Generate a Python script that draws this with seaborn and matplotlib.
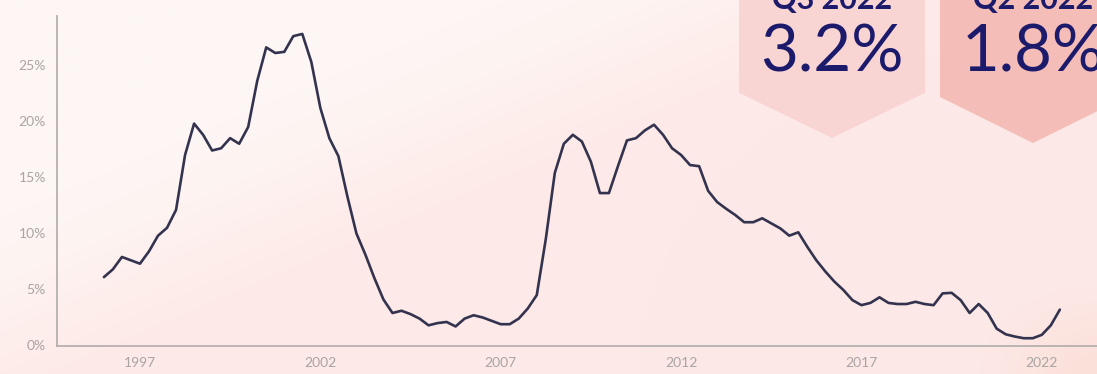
import matplotlib
matplotlib.use("Agg")
import matplotlib.pyplot as plt
from matplotlib.patches import Polygon
import numpy as np
import pandas as pd
import seaborn as sns

# quarterly values, 1996 Q1 .. 2022 Q3 (percent)
start_year = 1996
values = [
    6.1, 6.8, 7.9, 7.6, 7.3, 8.4, 9.8, 10.5, 12.1, 17.0,
    19.8, 18.8, 17.4, 17.6, 18.5, 18.0, 19.5, 23.6, 26.6, 26.1,
    26.2, 27.6, 27.8, 25.3, 21.2, 18.5, 16.9, 13.3, 10.0, 8.1,
    6.0, 4.1, 2.9, 3.1, 2.8, 2.4, 1.8, 2.0, 2.1, 1.7,
    2.4, 2.7, 2.5, 2.2, 1.9, 1.9, 2.4, 3.3, 4.5, 9.5,
    15.4, 18.0, 18.8, 18.2, 16.4, 13.6, 13.6, 16.0, 18.3, 18.5,
    19.2, 19.7, 18.8, 17.6, 17.0, 16.1, 16.0, 13.8, 12.8, 12.2,
    11.65, 11.0, 11.0, 11.35, 10.9, 10.45, 9.8, 10.1, 8.8, 7.6,
    6.6, 5.7, 4.95, 4.05, 3.6, 3.8, 4.3, 3.8, 3.7, 3.7,
    3.9, 3.7, 3.6, 4.65, 4.7, 4.05, 2.9, 3.7, 2.9, 1.5,
    1.0, 0.8, 0.65, 0.65, 0.95, 1.8, 3.2,
]
quarters = [start_year + i / 4 for i in range(len(values))]
df = pd.DataFrame({"quarter": quarters, "growth": values})

year_ticks = [1997, 2002, 2007, 2012, 2017, 2022]
pct_ticks = [0, 5, 10, 15, 20, 25]

badges = [("Q3 2022", "3.2%", "#f8d5d3"), ("Q2 2022", "1.8%", "#f4bdb7")]

sns.set_style("white")
plt.rcParams["font.family"] = ["Lato", "DejaVu Sans"]

W, H = 1097, 374
fig = plt.figure(figsize=(W / 100, H / 100), dpi=100)

# soft pink background with a lighter diagonal band at the top left
bg = fig.add_axes([0, 0, 1, 1], zorder=-10)
yy, xx = np.mgrid[0:H, 0:W]
d = (xx * 0.43 + yy - 320) / 40.0
t = 1 / (1 + np.exp(-d))
light = np.array([253, 247, 245]) / 255
pink = np.array([253, 233, 231]) / 255
img = light[None, None, :] * (1 - t[..., None]) + pink[None, None, :] * t[..., None]
corner = np.exp(-(((xx - W) / 80.0) ** 2 + ((yy - H) / 60.0) ** 2))
peach = np.array([250, 218, 208]) / 255
img = img * (1 - corner[..., None] * 0.6) + peach[None, None, :] * corner[..., None] * 0.6
bg.imshow(img, aspect="auto", extent=[0, 1, 0, 1])
bg.axis("off")

ax = fig.add_axes([57 / W, 28.5 / H, 1 - 57 / W, 329.5 / H])
ax.patch.set_alpha(0)
sns.lineplot(data=df, x="quarter", y="growth", ax=ax, color="#34334f", linewidth=1.9)

ax.set_xlim(1994.7, 2023.53)
ax.set_ylim(0, 29.4)
ax.set_xticks(year_ticks)
ax.set_xticklabels([str(y) for y in year_ticks])
ax.set_yticks(pct_ticks)
ax.set_yticklabels([f"{p}%" for p in pct_ticks])
ax.set_xlabel("")
ax.set_ylabel("")
for s in ["top", "right"]:
    ax.spines[s].set_visible(False)
for s in ["left", "bottom"]:
    ax.spines[s].set_color("#b5b0ae")
    ax.spines[s].set_linewidth(1.3)
ax.tick_params(axis="both", colors="#b5b0ae", labelcolor="#a9a4a3",
               labelsize=10, length=5, width=1.3, direction="out", pad=3)

# headline badges
def fx(px):
    return px / W

def fy(py):
    return 1 - py / H

for k, (label, val, col) in enumerate(badges):
    x0 = 739 + k * 201
    x1 = x0 + 186
    xm = (x0 + x1) / 2
    yb = 92.7 + k * 4.3
    yp = 138 + k * 5
    poly = Polygon([(fx(x0), fy(-5)), (fx(x1), fy(-5)), (fx(x1), fy(yb)),
                    (fx(xm), fy(yp)), (fx(x0), fy(yb))],
                   closed=True, transform=fig.transFigure, facecolor=col,
                   edgecolor="none", zorder=5)
    fig.patches.append(poly)
    fig.text(fx(xm), fy(9), label, ha="center", va="baseline", fontsize=22,
             fontweight="bold", color="#1b1a6b", zorder=6)
    fig.text(fx(xm), fy(72), val, ha="center", va="baseline", fontsize=47,
             color="#1b1a6b", zorder=6)

fig.savefig("out.png", dpi=100)
